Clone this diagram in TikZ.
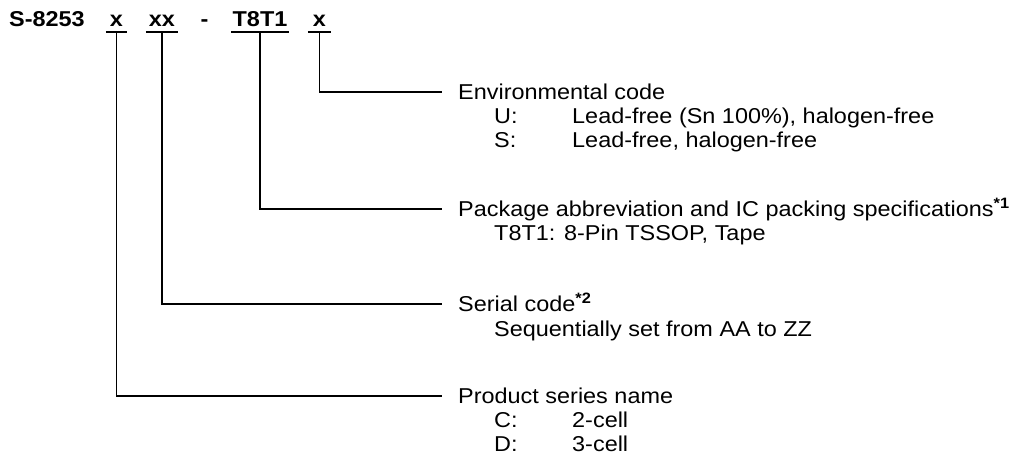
\documentclass[tikz,border=0pt]{standalone}
\usepackage{fontspec}
\setmainfont{Liberation Sans}[FakeStretch=1.09]

\begin{document}
\begin{tikzpicture}[x=1pt,y=-1pt,
    codebox/.style={font=\fontsize{21.5}{25}\selectfont\bfseries,anchor=base,inner xsep=0pt,inner ysep=0pt,text depth=5pt},
    head/.style={font=\fontsize{21.5}{25}\selectfont,anchor=base west,inner xsep=16pt,inner ysep=0pt,text height=15.4pt,text depth=0pt},
    item/.style={font=\fontsize{21.5}{25}\selectfont,anchor=base west,inner sep=0pt}]
  \useasboundingbox (0,0) rectangle (1020,468);
  \begin{scope}[every node/.style={codebox}]
    \node[anchor=base west] (part) at (9,27) {S-8253};
    \node[minimum width=21pt] (cx) at (116.5,27) {x};
    \node[minimum width=32pt] (cxx) at (162,27) {xx};
    \node (dash) at (204.5,27) {-};
    \node[minimum width=57pt] (ct) at (260,27) {T8T1};
    \node[minimum width=23pt] (ce) at (319.5,27) {x};
  \end{scope}
  \begin{scope}[every node/.style={head}]
    \node (env) at (442,99.5) {Environmental code};
    \node (pkg) at (442,216.5) {Package abbreviation and IC packing specifications\textsuperscript{\bfseries *1}};
    \node (ser) at (442,311.5) {Serial code\textsuperscript{\bfseries *2}};
    \node (prod) at (442,403.5) {Product series name};
  \end{scope}
  \begin{scope}[every node/.style={item}]
    \node (u) at (494,123.5) {U:};
    \node (uval) at (572,123.5) {Lead-free (Sn 100\%), halogen-free};
    \node (s) at (494,147.5) {S:};
    \node (sval) at (572,147.5) {Lead-free, halogen-free};
    \node (tape) at (494,240.5) {T8T1: 8-Pin TSSOP, Tape};
    \node (seq) at (494,336.5) {Sequentially set from AA to ZZ};
    \node (c) at (494,427.5) {C:};
    \node (cval) at (572,427.5) {2-cell};
    \node (d) at (494,451.5) {D:};
    \node (dval) at (572,451.5) {3-cell};
  \end{scope}
  \foreach \c in {cx,cxx,ct,ce}
    \draw[line width=1.6pt] (\c.south west) -- (\c.south east);
  \begin{scope}[every edge/.style={draw,line width=1.6pt,to path={|- (\tikztotarget)}}]
    \path (ce.south) edge (env.west);
    \path (ct.south) edge (pkg.west);
    \path (cxx.south) edge (ser.west);
    \path (cx.south) edge (prod.west);
  \end{scope}
\end{tikzpicture}
\end{document}
